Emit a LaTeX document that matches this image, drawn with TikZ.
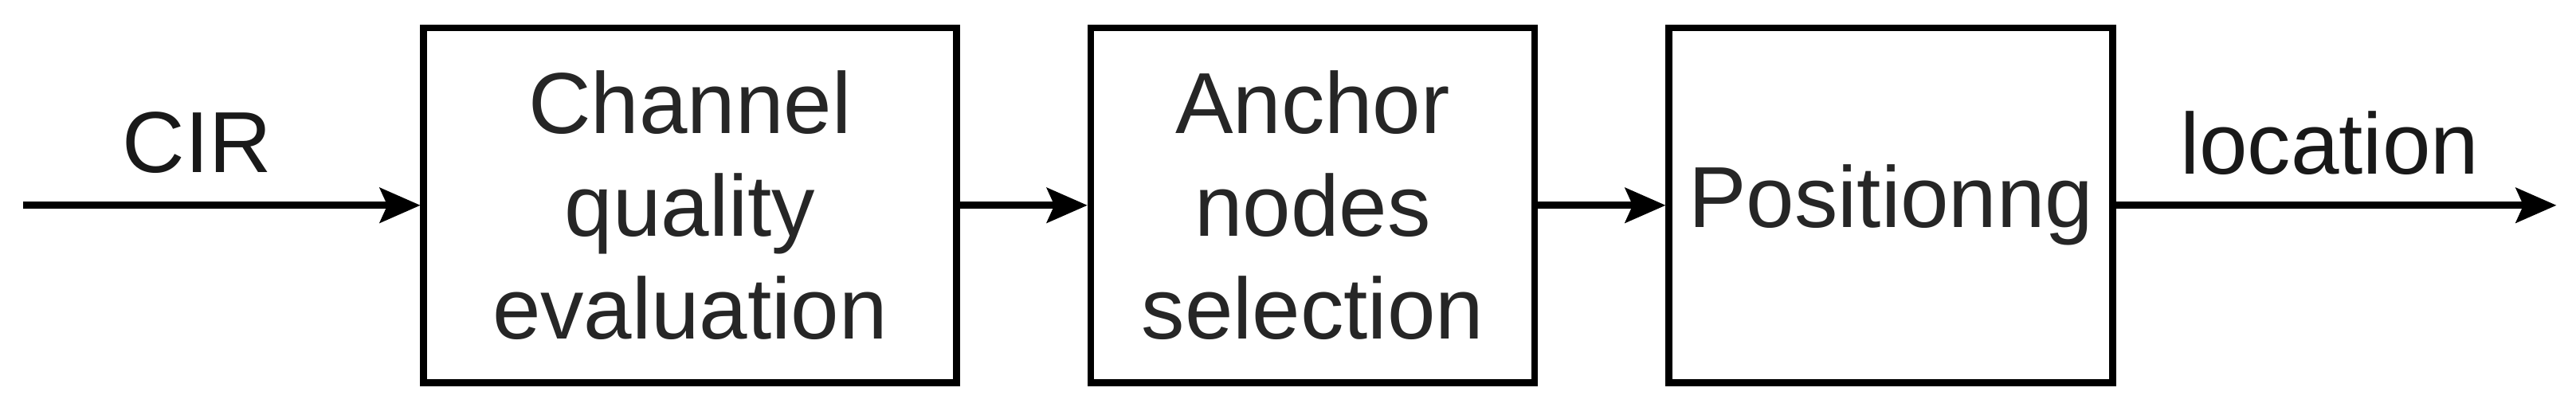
\documentclass[tikz,border=0pt]{standalone}
\usepackage{fontspec}
\setmainfont{Liberation Sans}
\usetikzlibrary{arrows.meta}
\tikzstyle{block} = [rectangle, draw=black, line width=1.2pt, fill=white, align=center, font=\fontsize{15}{17.8}\selectfont, text=black!85, inner sep=0pt]
\tikzstyle{arrow} = [line width=1.2pt,-{Stealth[length=0.25cm,width=0.22cm,inset=0.05cm,line width=0pt]}]
\tikzstyle{label} = [font=\fontsize{15}{17.8}\selectfont, text=black!90]

\begin{document}
\begin{tikzpicture}[x=0.01cm, y=0.01cm]
				\useasboundingbox (0,0) rectangle (1568,250);
				\node (quality) [block, minimum width=3.24cm, minimum height=2.16cm] at (420,125) {Channel\\quality\\evaluation};
				\node (anchor) [block, minimum width=2.70cm, minimum height=2.16cm] at (799,125) {Anchor\\nodes\\selection};
				\node (position) [block, minimum width=2.70cm, minimum height=2.16cm] at (1151,125) {Positionng};
				\coordinate (in) at (14,125);
				\coordinate (out) at (1556,125);
				\node (cir) [label] at (120,163) {CIR};
				\node (location) [label] at (1418,163) {location};
				\draw [arrow] (in) -- (quality);
				\draw [arrow] (quality) -- (anchor);
				\draw [arrow] (anchor) -- (position);
				\draw [arrow] (position) -- (out);
			\end{tikzpicture}
\end{document}
